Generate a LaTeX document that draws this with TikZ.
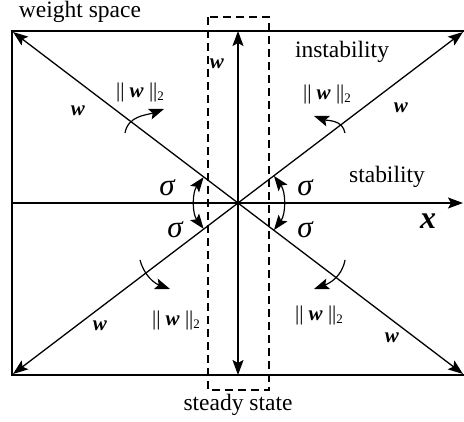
\documentclass[tikz,border=0pt]{standalone}
\usepackage{fontspec}
\setmainfont{Liberation Serif}
\usetikzlibrary{arrows.meta}
\newcommand{\bw}{\textbf{\textit{w}}}
\begin{document}
\begin{tikzpicture}[x=1pt,y=-1pt,
  ln/.style={line width=1.4pt},
  arr/.style={line width=1.3pt,-{Stealth[length=15pt,width=11pt,inset=3pt]}},
  darr/.style={line width=1.3pt,{Stealth[length=15pt,width=11pt,inset=3pt]}-{Stealth[length=15pt,width=11pt,inset=3pt]}},
  txt/.style={inner sep=0pt,font=\fontsize{23.5}{26}\selectfont},
  wl/.style={inner sep=0pt,font=\fontsize{21}{23}\selectfont},
  sg/.style={inner sep=0pt,font=\fontsize{31}{33}\selectfont\itshape},
  nl/.style={inner sep=0pt,font=\fontsize{21}{23}\selectfont}]
\useasboundingbox (0,0) rectangle (464,422);
% frame
\coordinate (tl) at (12,31);
\coordinate (tr) at (464,31);
\coordinate (bl) at (12,375);
\coordinate (br) at (464,375);
\coordinate (ml) at (12,203);
\coordinate (mr) at (463,203);
\coordinate (c) at (238,203);
\coordinate (vt) at (238,31);
\coordinate (vb) at (238,375);
\coordinate (ctl) at (13,32);
\coordinate (ctr) at (463,32);
\coordinate (cbl) at (13,374);
\coordinate (cbr) at (463,374);
\draw[ln] (tr) -- (tl) -- (bl) -- (br);
% axes
\draw[arr] (ml) -- (mr);
\draw[darr] (vb) -- (vt);
\draw[darr] (ctl) -- (cbr);
\draw[darr] (cbl) -- (ctr);
% dashed steady state box
\draw[line width=1.3pt,dash pattern=on 8pt off 5pt] (208,17) rectangle (269,390);
% sigma arcs
\draw[darr,line width=1.2pt] (c) ++(143:43) arc[start angle=143,end angle=217,radius=43];
\draw[darr,line width=1.2pt] (c) ++(37:45) arc[start angle=37,end angle=-37,radius=45];
% norm rotation arrows
\coordinate (a1) at (125,133); \coordinate (b1) at (164,109);
\coordinate (a2) at (345,133); \coordinate (b2) at (314,116);
\coordinate (a3) at (140,260); \coordinate (b3) at (170,289);
\coordinate (a4) at (345,260); \coordinate (b4) at (314,289);
\draw[arr,line width=1.2pt] (a1) to[out=80,in=200] (b1);
\draw[arr,line width=1.2pt] (a2) to[out=100,in=-20] (b2);
\draw[arr,line width=1.2pt] (a3) to[out=-75,in=160] (b3);
\draw[arr,line width=1.2pt] (a4) to[out=-100,in=20] (b4);
% texts
\node[txt] (ws) at (80,12) {weight space};
\node[txt] (ins) at (342,52) {instability};
\node[txt] (st) at (387,177) {stability};
\node[txt] (ss) at (238,405) {steady state};
\node[wl] (w1) at (78,111) {\bw};
\node[wl] (w2) at (401,108) {\bw};
\node[wl] (w3) at (100,326) {\bw};
\node[wl] (w4) at (392,338) {\bw};
\node[wl] (w5) at (217,64) {\bw};
\node[inner sep=0pt,font=\fontsize{32}{34}\selectfont] (xl) at (428,221) {\textbf{\textit{x}}};
\node[sg] (s1) at (167,188) {σ};
\node[sg] (s2) at (305,188) {σ};
\node[sg] (s3) at (175,230) {σ};
\node[sg] (s4) at (305,230) {σ};
\node[nl] (n1) at (140,92) {\textbar\textbar\ \bw\ \textbar\textbar\raisebox{-3pt}{\fontsize{13}{13}\selectfont 2}};
\node[nl] (n2) at (327,94) {\textbar\textbar\ \bw\ \textbar\textbar\raisebox{-3pt}{\fontsize{13}{13}\selectfont 2}};
\node[nl] (n3) at (176,320) {\textbar\textbar\ \bw\ \textbar\textbar\raisebox{-3pt}{\fontsize{13}{13}\selectfont 2}};
\node[nl] (n4) at (319,315) {\textbar\textbar\ \bw\ \textbar\textbar\raisebox{-3pt}{\fontsize{13}{13}\selectfont 2}};
\end{tikzpicture}
\end{document}
